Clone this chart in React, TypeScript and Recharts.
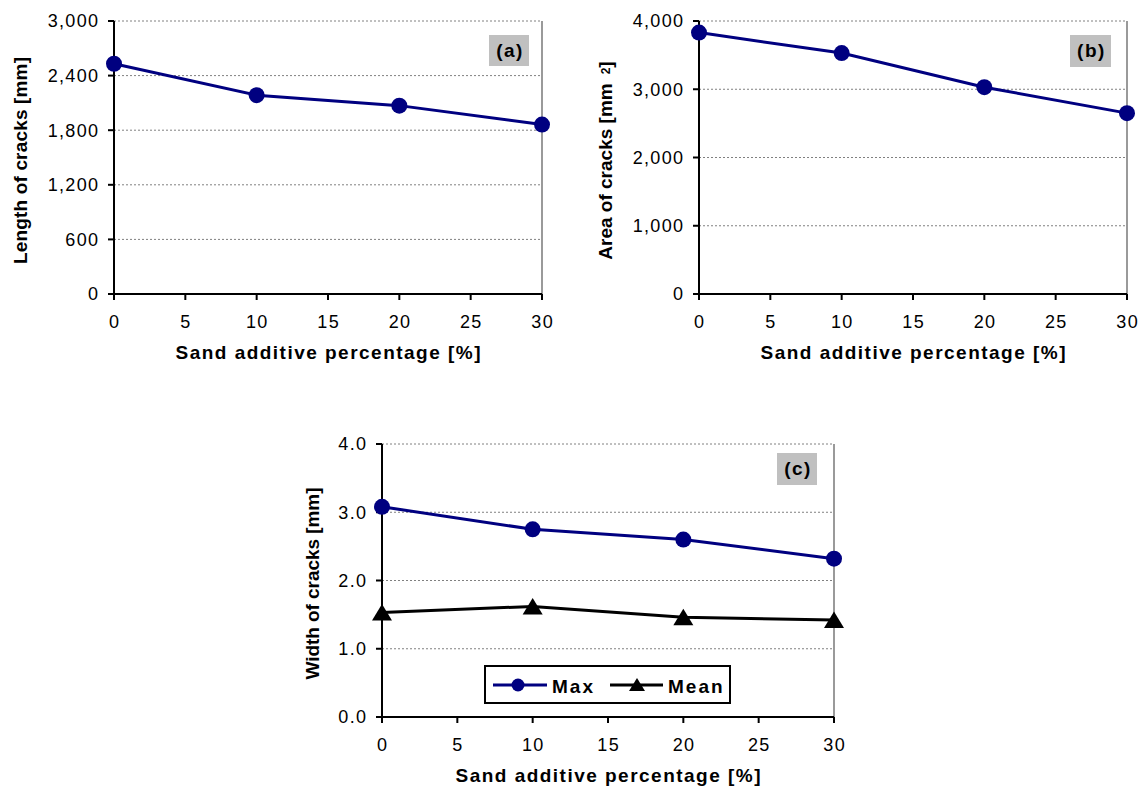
import React from 'react';
import { LineChart, Line, XAxis, YAxis, CartesianGrid, ReferenceLine, Legend } from 'recharts';

const sandPercent = [0, 10, 20, 30];
const crackLength = [2530, 2185, 2070, 1862];
const crackArea = [3830, 3530, 3030, 2650];
const widthMax = [3.08, 2.75, 2.6, 2.32];
const widthMean = [1.53, 1.62, 1.46, 1.42];
const xTicks = [0, 5, 10, 15, 20, 25, 30];
const lengthTicks = [0, 600, 1200, 1800, 2400, 3000];
const areaTicks = [0, 1000, 2000, 3000, 4000];
const widthTicks = [0, 1, 2, 3, 4];
const seriesC = [
  { key: 'max', name: 'Max', color: '#000080', shape: 'circle' },
  { key: 'mean', name: 'Mean', color: '#000000', shape: 'triangle' },
];

const FONT = '"Liberation Sans", Arial, Helvetica, sans-serif';
const NAVY = '#000080';
const LS = 1.3;
const TICK_FS = 18;

const dataA = sandPercent.map((x, i) => ({ x, v: crackLength[i] }));
const dataB = sandPercent.map((x, i) => ({ x, v: crackArea[i] }));
const dataC = sandPercent.map((x, i) => ({ x, max: widthMax[i], mean: widthMean[i] }));

const fmtThousands = (v: number) => v.toLocaleString('en-US');
const fmtOne = (v: number) => v.toFixed(1);

const XTick = (p: any) => (
  <text x={p.x} y={p.y} dy="0.71em" dx={LS / 2} textAnchor="middle" fontSize={TICK_FS} fontFamily={FONT} fill="#000" letterSpacing={LS}>
    {p.payload.value}
  </text>
);

const makeYTick = (fmt: (v: number) => string) => (p: any) => (
  <text x={p.x} y={p.y} dy="0.355em" dx={LS} textAnchor="end" fontSize={TICK_FS} fontFamily={FONT} fill="#000" letterSpacing={LS}>
    {fmt(p.payload.value)}
  </text>
);

const xTitle = (props: any) => {
  const vb = props.viewBox;
  return (
    <text x={vb.x + vb.width / 2} y={vb.y + 58} textAnchor="middle" dominantBaseline="central" fontSize={19} fontWeight="bold" fontFamily={FONT} fill="#000" textLength={305} lengthAdjust="spacing">
      Sand additive percentage [%]
    </text>
  );
};

const makeYTitle = (content: React.ReactNode, cx: number, len?: number) => (props: any) => {
  const vb = props.viewBox;
  const cy = vb.y + vb.height / 2 + 3;
  return (
    <text x={cx} y={cy} transform={`rotate(-90 ${cx} ${cy})`} textAnchor="middle" dominantBaseline="central" fontSize={19} fontWeight="bold" fontFamily={FONT} fill="#000" {...(len ? { textLength: len, lengthAdjust: 'spacing' } : {})}>
      {content}
    </text>
  );
};

const TriangleDot = (p: any) => {
  if (p.cx == null || p.cy == null) return <g key={p.key} />;
  return <path key={p.key} d={`M${p.cx},${p.cy - 8.5} L${p.cx + 10},${p.cy + 8} L${p.cx - 10},${p.cy + 8} Z`} fill="#000" />;
};

const LegendBox = () => {
  const items = [
    { s: seriesC[0], lx1: 9, lx2: 63, mx: 34, tx: 68 },
    { s: seriesC[1], lx1: 126, lx2: 179, mx: 153, tx: 184 },
  ];
  const cy = 20;
  return (
    <svg width={247} height={39} style={{ display: 'block' }}>
      <rect x={1} y={1} width={245} height={37} fill="#fff" stroke="#000" strokeWidth={2} />
      {items.map((it) => (
        <g key={it.s.key}>
          <line x1={it.lx1} x2={it.lx2} y1={cy} y2={cy} stroke={it.s.color} strokeWidth={3} />
          {it.s.shape === 'circle' ? (
            <circle cx={it.mx} cy={cy} r={6.5} fill={it.s.color} />
          ) : (
            <path d={`M${it.mx},${cy - 7} L${it.mx + 8},${cy + 6} L${it.mx - 8},${cy + 6} Z`} fill={it.s.color} />
          )}
          <text x={it.tx} y={cy + 1} dominantBaseline="central" fontSize={19} fontWeight="bold" fontFamily={FONT} fill="#000" letterSpacing={2}>
            {it.s.name}
          </text>
        </g>
      ))}
    </svg>
  );
};

const axisStyle = { stroke: '#000', strokeWidth: 2 };

const Tag = ({ text, left, top, w, h }: any) => (
  <div style={{ position: 'absolute', left, top, width: w, height: h, background: '#c0c0c0', display: 'flex', alignItems: 'center', justifyContent: 'center', fontFamily: FONT, fontWeight: 'bold', fontSize: 19, letterSpacing: 1.5, paddingLeft: 2, boxSizing: 'border-box' }}>
    {text}
  </div>
);

function SinglePanel({ data, yTicks, fmt, yTitle }: any) {
  const yMax = yTicks[yTicks.length - 1];
  return (
    <LineChart width={560} height={380} data={data} margin={{ top: 21, right: 18, bottom: 26, left: 0 }}>
      <CartesianGrid horizontal vertical={false} stroke="#808080" strokeDasharray="2 2" />
      <ReferenceLine x={30} stroke="#9a9a9a" strokeWidth={2} />
      <XAxis dataKey="x" type="number" domain={[0, 30]} ticks={xTicks} interval={0} height={60} tickSize={6} tickMargin={15} axisLine={axisStyle} tickLine={axisStyle} tick={XTick} label={xTitle} />
      <YAxis type="number" domain={[0, yMax]} ticks={yTicks} interval={0} width={114} tickSize={6} tickMargin={10} axisLine={axisStyle} tickLine={axisStyle} tick={makeYTick(fmt)} label={yTitle} />
      <Line dataKey="v" stroke={NAVY} strokeWidth={3} dot={{ r: 8, fill: NAVY, stroke: NAVY, strokeWidth: 0 }} isAnimationActive={false} />
    </LineChart>
  );
}

export default function App() {
  const areaTitle = (
    <>
      Area of cracks [mm
      <tspan fontSize={12} dx={9}>2</tspan>]
    </>
  );
  return (
    <div style={{ position: 'absolute', left: 0, top: 0, width: 1145, height: 788, background: '#fff', overflow: 'hidden' }}>
      <div style={{ position: 'absolute', left: 0, top: 0 }}>
        <SinglePanel data={dataA} yTicks={lengthTicks} fmt={fmtThousands} yTitle={makeYTitle('Length of cracks [mm]', 20.6, 207)} />
      </div>
      <div style={{ position: 'absolute', left: 585, top: 0 }}>
        <SinglePanel data={dataB} yTicks={areaTicks} fmt={fmtThousands} yTitle={makeYTitle(areaTitle, 20.6)} />
      </div>
      <div style={{ position: 'absolute', left: 290, top: 423 }}>
        <LineChart width={560} height={380} data={dataC} margin={{ top: 21, right: 16, bottom: 26, left: 0 }}>
          <CartesianGrid horizontal vertical={false} stroke="#808080" strokeDasharray="2 2" />
          <ReferenceLine x={30} stroke="#9a9a9a" strokeWidth={2} />
          <XAxis dataKey="x" type="number" domain={[0, 30]} ticks={xTicks} interval={0} height={60} tickSize={6} tickMargin={15} axisLine={axisStyle} tickLine={axisStyle} tick={XTick} label={xTitle} />
          <YAxis type="number" domain={[0, 4]} ticks={widthTicks} interval={0} width={92} tickSize={6} tickMargin={10} axisLine={axisStyle} tickLine={axisStyle} tick={makeYTick(fmtOne)} label={makeYTitle('Width of cracks [mm]', 22.4, 192)} />
          <Legend layout="vertical" align="center" verticalAlign="middle" wrapperStyle={{ left: 194, top: 242, width: 247, height: 39 }} content={() => <LegendBox />} />
          <Line dataKey="max" name="Max" stroke={NAVY} strokeWidth={3} dot={{ r: 8, fill: NAVY, stroke: NAVY, strokeWidth: 0 }} isAnimationActive={false} />
          <Line dataKey="mean" name="Mean" stroke="#000" strokeWidth={3} dot={TriangleDot} isAnimationActive={false} />
        </LineChart>
      </div>
      <Tag text="(a)" left={489} top={35} w={40} h={31} />
      <Tag text="(b)" left={1070} top={35} w={41} h={32} />
      <Tag text="(c)" left={777} top={453} w={40} h={32} />
    </div>
  );
}
